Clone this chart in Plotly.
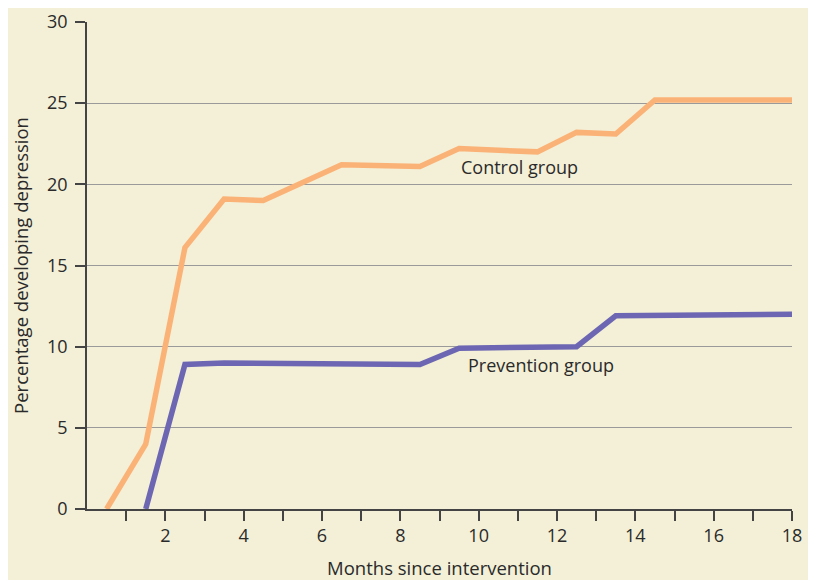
import plotly.graph_objects as go

control_x = [0.5, 1.5, 2.5, 3.5, 4.5, 6.5, 8.5, 9.5, 11.5, 12.5, 13.5, 14.5, 18]
control_y = [0, 4.0, 16.1, 19.1, 19.0, 21.2, 21.1, 22.2, 22.0, 23.2, 23.1, 25.2, 25.2]

prevention_x = [1.5, 2.5, 3.5, 8.5, 9.5, 12.5, 13.5, 18]
prevention_y = [0, 8.9, 9.0, 8.9, 9.9, 10.0, 11.9, 12.0]

x_tickvals = list(range(1, 19))
x_ticktext = [str(v) if v % 2 == 0 else "" for v in x_tickvals]
y_tickvals = [0, 5, 10, 15, 20, 25, 30]

font_family = "Open Sans, DejaVu Sans, sans-serif"
bg = "#f3f0d7"

fig = go.Figure()
fig.add_trace(go.Scatter(x=control_x, y=control_y, mode="lines",
                         line=dict(color="#fbb277", width=5.5)))
fig.add_trace(go.Scatter(x=prevention_x, y=prevention_y, mode="lines",
                         line=dict(color="#6d67b3", width=5.5)))

fig.add_annotation(x=11.03, y=21.05, text="Control group", showarrow=False,
                   font=dict(size=18, color="#2a2a2a", family=font_family))
fig.add_annotation(x=11.6, y=8.85, text="Prevention group", showarrow=False,
                   font=dict(size=18, color="#2a2a2a", family=font_family))

fig.update_layout(
    width=808, height=572,
    margin=dict(l=79, r=24, t=14, b=71, autoexpand=False),
    paper_bgcolor=bg, plot_bgcolor=bg,
    showlegend=False,
    font=dict(family=font_family, color="#2a2a2a", size=18),
    xaxis=dict(range=[0, 18], tickvals=x_tickvals, ticktext=x_ticktext,
               ticks="outside", ticklen=10, tickwidth=1.5, tickcolor="#444",
               showline=True, linecolor="#444", linewidth=1.5,
               showgrid=False, zeroline=False, automargin=False,
               title=dict(text="Months since intervention", standoff=17,
                          font=dict(size=18.5)),
               tickfont=dict(size=18)),
    yaxis=dict(range=[0, 30], tickvals=y_tickvals,
               ticks="outside", ticklen=10, tickwidth=1.5, tickcolor="#444",
               showline=True, linecolor="#444", linewidth=1.5,
               showgrid=True, gridcolor="#9a9a9a", gridwidth=1.2,
               zeroline=False, automargin=False, ticklabelstandoff=4,
               title=dict(text="Percentage developing depression", standoff=14,
                          font=dict(size=18.5)),
               tickfont=dict(size=18)),
)

fig.write_html("out.html")
